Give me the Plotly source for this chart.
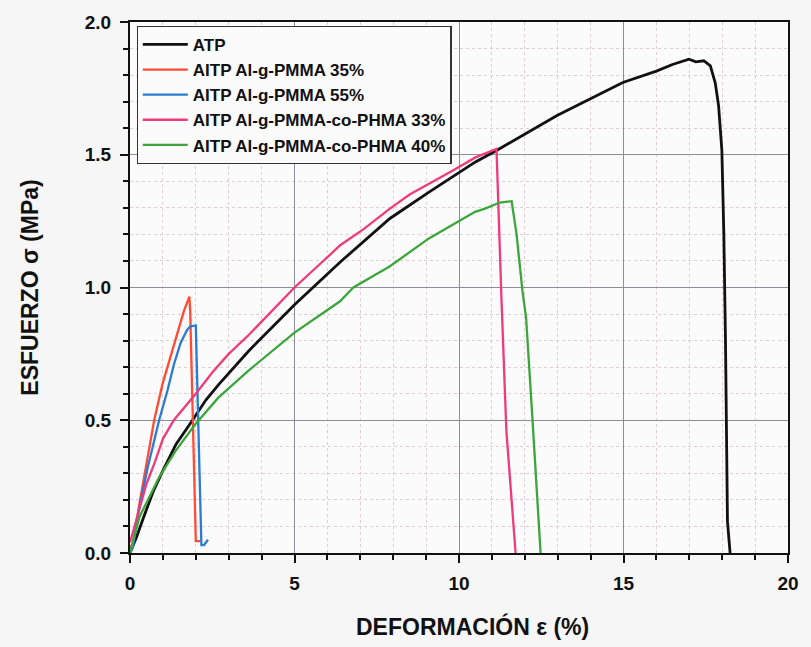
import plotly.graph_objects as go

# Stress-strain curves (strain in %, stress in MPa)
atp_x = [0, 0.2, 0.4, 0.7, 1.0, 1.4, 1.9, 2.3, 2.7, 3.6, 5.0, 6.4, 7.9, 9.1, 10.5, 11.14,
         12.98, 14.98, 16.0, 16.49, 16.99, 17.2, 17.44, 17.64, 17.79, 17.89, 17.99,
         18.05, 18.1, 18.16, 18.24]
atp_y = [0, 0.06, 0.13, 0.23, 0.31, 0.41, 0.5, 0.575, 0.635, 0.76, 0.935, 1.097, 1.26, 1.36,
         1.473, 1.516, 1.648, 1.772, 1.815, 1.84, 1.86, 1.85, 1.854, 1.835, 1.77, 1.685, 1.516,
         1.2, 0.8, 0.12, 0.0]

pmma35_x = [0, 0.085, 0.285, 0.485, 0.735, 0.985, 1.185, 1.435, 1.635, 1.805, 1.83, 2.0, 2.13]
pmma35_y = [0.02, 0.035, 0.185, 0.32, 0.5, 0.635, 0.72, 0.82, 0.91, 0.966, 0.91, 0.045, 0.045]

pmma55_x = [0, 0.085, 0.285, 0.535, 0.885, 1.135, 1.335, 1.535, 1.735, 1.835, 2.0, 2.17, 2.25, 2.37]
pmma55_y = [0.0, 0.02, 0.17, 0.32, 0.5, 0.61, 0.71, 0.79, 0.84, 0.854, 0.857, 0.03, 0.03, 0.05]

phma33_x = [0, 0.25, 0.5, 0.75, 1.0, 1.33, 2.0, 2.5, 3.0, 3.6, 4.3, 5.0, 5.7, 6.4, 7.1, 7.9,
            8.5, 9.1, 9.8, 10.5, 11.14, 11.29, 11.44, 11.72]
phma33_y = [0.04, 0.15, 0.26, 0.34, 0.43, 0.5, 0.6, 0.68, 0.75, 0.82, 0.91, 1.0, 1.08, 1.16,
            1.22, 1.297, 1.35, 1.391, 1.44, 1.49, 1.522, 0.96, 0.46, 0.0]

phma40_x = [0, 0.285, 0.485, 0.885, 1.385, 1.985, 2.685, 3.585, 4.99, 6.385, 6.79, 7.89, 9.085,
            10.49, 10.79, 11.24, 11.6, 11.75, 11.93, 12.04, 12.23, 12.48]
phma40_y = [0, 0.135, 0.185, 0.285, 0.385, 0.485, 0.585, 0.685, 0.829, 0.948, 1.0, 1.079, 1.185,
            1.285, 1.297, 1.32, 1.325, 1.2, 0.985, 0.885, 0.51, 0.0]

series = [
    ("ATP", atp_x, atp_y, "#111111", 2.8),
    ("AITP Al-g-PMMA 35%", pmma35_x, pmma35_y, "#ff4b36", 2.3),
    ("AITP Al-g-PMMA 55%", pmma55_x, pmma55_y, "#2b7bd2", 2.3),
    ("AITP Al-g-PMMA-co-PHMA 33%", phma33_x, phma33_y, "#ee3b7c", 2.3),
    ("AITP Al-g-PMMA-co-PHMA 40%", phma40_x, phma40_y, "#3ca53c", 2.3),
]

x_ticks = [0, 5, 10, 15, 20]
y_ticks = [0.0, 0.5, 1.0, 1.5, 2.0]

fig = go.Figure()
for name, xs, ys, color, width in series:
    fig.add_trace(go.Scatter(x=xs, y=ys, mode="lines", name=name,
                             line=dict(color=color, width=width)))

FAMILY = "Liberation Sans, Arial, sans-serif"
tick_font = dict(family=FAMILY, size=19, color="#111111", weight="bold")
title_font = dict(family=FAMILY, size=23, color="#111111", weight="bold")

axis_common = dict(
    showline=True, linecolor="#111111", linewidth=2.2, mirror=True,
    ticks="outside", ticklen=8, tickwidth=1.6, tickcolor="#111111",
    showgrid=True, gridcolor="#8e8e98", gridwidth=1,
    zeroline=False, tickfont=tick_font,
)

fig.update_layout(
    width=811, height=647,
    margin=dict(l=130, r=15, t=19, b=94),
    paper_bgcolor="#f6f6f6", plot_bgcolor="#fbfbfb",
    showlegend=True,
    legend=dict(
        x=0.01, y=0.993, xanchor="left", yanchor="top",
        bgcolor="#fbfbfb", bordercolor="#333333", borderwidth=1.2,
        font=dict(family=FAMILY, size=17, color="#111111", weight="bold"),
        tracegroupgap=0, itemwidth=45,
    ),
    xaxis=dict(
        range=[0, 20], tickvals=x_ticks, ticktext=[str(v) for v in x_ticks],
        ticklabelstandoff=4,
        minor=dict(dtick=1, ticks="outside", ticklen=5, tickcolor="#111111",
                   showgrid=True, gridcolor="#e0cdd6", griddash="dot", gridwidth=1),
        **axis_common,
    ),
    yaxis=dict(
        range=[0, 2], tickvals=y_ticks, ticktext=[f"{v:.1f}" for v in y_ticks],
        ticklabelstandoff=5,
        title=dict(text="ESFUERZO σ (MPa)", font=title_font, standoff=40),
        minor=dict(dtick=0.1, ticks="outside", ticklen=5, tickcolor="#111111",
                   showgrid=True, gridcolor="#e0cdd6", griddash="dot", gridwidth=1),
        **axis_common,
    ),
    annotations=[
        dict(text="DEFORMACIÓN ε (%)", x=0.52, y=-(627 - 552.7) / 533.4,
             xref="paper", yref="paper", showarrow=False, font=title_font,
             xanchor="center", yanchor="middle"),
    ],
)

fig.write_html("out.html")
